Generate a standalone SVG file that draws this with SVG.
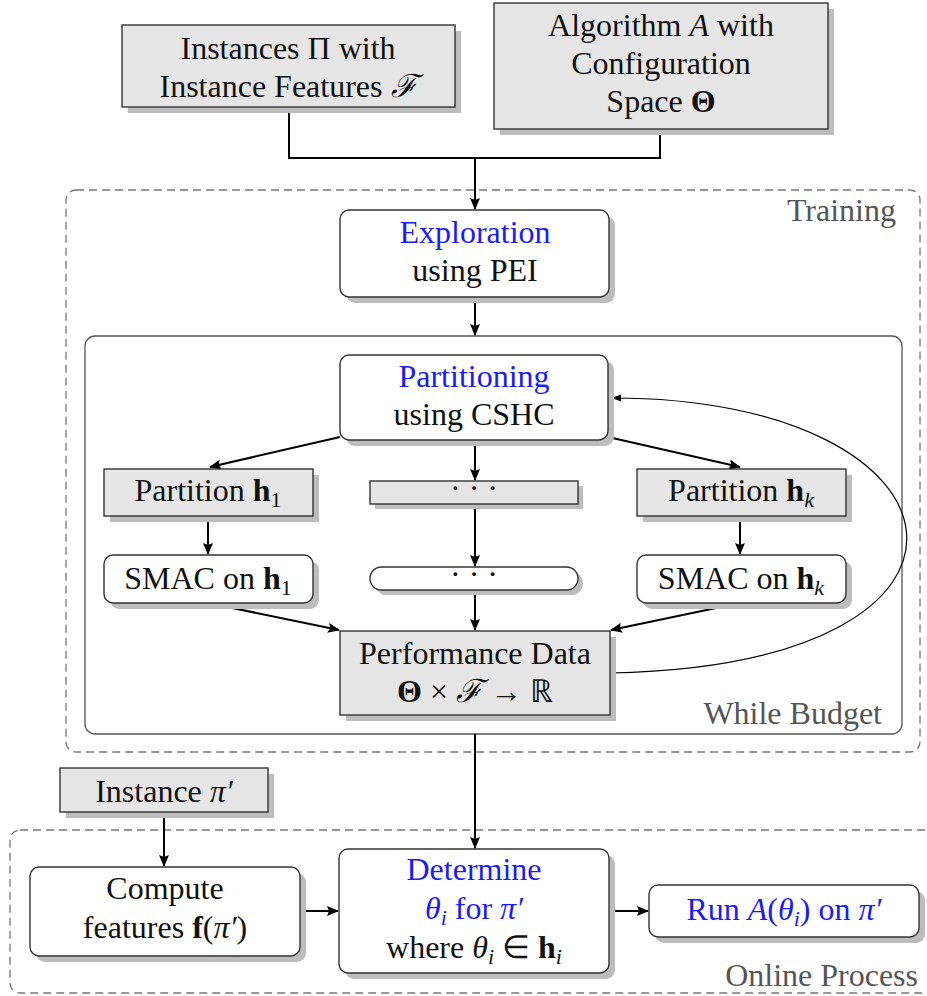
<svg xmlns="http://www.w3.org/2000/svg" width="927" height="996" viewBox="0 0 927 996" font-family="Liberation Serif, serif" font-size="32">
<defs>
<marker id="ah" viewBox="0 0 12 10" refX="11" refY="5" markerWidth="12" markerHeight="10" markerUnits="userSpaceOnUse" orient="auto"><path d="M0,0 L12,5 L0,10 L2,5 z" fill="#000"/></marker>
<marker id="ah2" viewBox="0 0 10 10" refX="10" refY="5" markerWidth="9" markerHeight="9" markerUnits="userSpaceOnUse" orient="auto"><path d="M0,1 L10,5 L0,9 z" fill="#000"/></marker>
</defs>

<g id="training-frame">
<rect x="66" y="190" width="854" height="562" rx="10" fill="none" stroke="#777" stroke-width="1.3" stroke-dasharray="8 5"/>
<text font-family="Liberation Serif" font-size="32" fill="#555" text-anchor="end" x="896" y="221">Training</text>
</g>
<g id="while-budget-frame">
<rect x="85" y="336" width="817" height="398" rx="10" fill="none" stroke="#555" stroke-width="1.3"/>
<text font-family="Liberation Serif" font-size="32" fill="#555" text-anchor="end" x="882" y="724">While Budget</text>
</g>
<g id="online-frame">
<rect x="10" y="830" width="930" height="163" rx="10" fill="none" stroke="#777" stroke-width="1.3" stroke-dasharray="8 5"/>
<text font-family="Liberation Serif" font-size="32" fill="#555" text-anchor="end" x="918" y="986">Online Process</text>
</g>

<g id="connectors" fill="none" stroke="#000" stroke-width="2">
<path d="M289,107 V158 H660 V129"/>
<path d="M475,158 V209" marker-end="url(#ah)"/>
<path d="M475,297 V335" marker-end="url(#ah)"/>
<path d="M340,437 L210,467" marker-end="url(#ah)"/>
<path d="M475,440 V480" marker-end="url(#ah)"/>
<path d="M608,437 L740,467" marker-end="url(#ah)"/>
<path d="M208,516 V554" marker-end="url(#ah)"/>
<path d="M475,504 V566" marker-end="url(#ah)"/>
<path d="M740,516 V554" marker-end="url(#ah)"/>
<path d="M208,603 L339,630" marker-end="url(#ah)"/>
<path d="M475,590 V630" marker-end="url(#ah)"/>
<path d="M740,603 L611,630" marker-end="url(#ah)"/>
<path stroke-width="1.2" d="M610,673 C1030,665 980,398 612,398" marker-end="url(#ah2)"/>
<path d="M475,734 V848" marker-end="url(#ah)"/>
<path d="M164,812 V866" marker-end="url(#ah)"/>
<path d="M300,911 H338" marker-end="url(#ah)"/>
<path d="M609,911 H648" marker-end="url(#ah)"/>
</g>

<g id="instances">
<rect fill="#bdbdbd" x="128" y="31" width="333" height="82"/>
<rect fill="#e6e6e6" stroke="#333" stroke-width="1.4" x="122" y="25" width="333" height="82"/>
<text font-family="Liberation Serif" font-size="32" fill="#111" text-anchor="middle" x="288" y="59">Instances Π with</text>
<text font-family="Liberation Serif" font-size="32" fill="#111" text-anchor="middle" x="288" y="97">Instance Features <tspan font-style="italic">ℱ</tspan></text>
</g>
<g id="algorithm">
<rect fill="#bdbdbd" x="500" y="9" width="334" height="126"/>
<rect fill="#e6e6e6" stroke="#333" stroke-width="1.4" x="494" y="3" width="334" height="126"/>
<text font-family="Liberation Serif" font-size="32" fill="#111" text-anchor="middle" x="661" y="36">Algorithm <tspan font-style="italic">A</tspan> with</text>
<text font-family="Liberation Serif" font-size="32" fill="#111" text-anchor="middle" x="661" y="74">Configuration</text>
<text font-family="Liberation Serif" font-size="32" fill="#111" text-anchor="middle" x="661" y="112">Space <tspan font-weight="bold">Θ</tspan></text>
</g>
<g id="exploration">
<rect fill="#bdbdbd" x="346" y="216" width="269" height="87" rx="9"/>
<rect fill="#fff" stroke="#333" stroke-width="1.4" x="340" y="210" width="269" height="87" rx="9"/>
<text font-family="Liberation Serif" font-size="32" fill="#1a1aff" text-anchor="middle" x="475" y="243">Exploration</text>
<text font-family="Liberation Serif" font-size="32" fill="#111" text-anchor="middle" x="475" y="281">using PEI</text>
</g>
<g id="partitioning">
<rect fill="#bdbdbd" x="346" y="361" width="268" height="85" rx="9"/>
<rect fill="#fff" stroke="#333" stroke-width="1.4" x="340" y="355" width="268" height="85" rx="9"/>
<text font-family="Liberation Serif" font-size="32" fill="#1a1aff" text-anchor="middle" x="474" y="387">Partitioning</text>
<text font-family="Liberation Serif" font-size="32" fill="#111" text-anchor="middle" x="474" y="425">using CSHC</text>
</g>
<g id="partition-h1">
<rect fill="#bdbdbd" x="110" y="475" width="209" height="47"/>
<rect fill="#e6e6e6" stroke="#333" stroke-width="1.4" x="104" y="469" width="209" height="47"/>
<text font-family="Liberation Serif" font-size="32" fill="#111" text-anchor="middle" x="208" y="501">Partition <tspan font-weight="bold">h</tspan><tspan font-size="22" dy="6">1</tspan></text>
</g>
<g id="partition-dots">
<rect fill="#bdbdbd" x="375" y="486" width="208" height="23"/>
<rect fill="#e6e6e6" stroke="#333" stroke-width="1.4" x="370" y="481" width="208" height="23"/>
<text font-family="Liberation Serif" font-size="32" fill="#111" text-anchor="middle" x="474" y="499">· · ·</text>
</g>
<g id="partition-hk">
<rect fill="#bdbdbd" x="643" y="475" width="209" height="47"/>
<rect fill="#e6e6e6" stroke="#333" stroke-width="1.4" x="637" y="469" width="209" height="47"/>
<text font-family="Liberation Serif" font-size="32" fill="#111" text-anchor="middle" x="741" y="501">Partition <tspan font-weight="bold">h</tspan><tspan font-size="22" font-style="italic" dy="6">k</tspan></text>
</g>
<g id="smac-h1">
<rect fill="#bdbdbd" x="110" y="561" width="209" height="48" rx="9"/>
<rect fill="#fff" stroke="#333" stroke-width="1.4" x="104" y="555" width="209" height="48" rx="9"/>
<text font-family="Liberation Serif" font-size="32" fill="#111" text-anchor="middle" x="208" y="589">SMAC on <tspan font-weight="bold">h</tspan><tspan font-size="22" dy="6">1</tspan></text>
</g>
<g id="smac-dots">
<rect fill="#bdbdbd" x="375" y="572" width="208" height="23" rx="11.5"/>
<rect fill="#fff" stroke="#333" stroke-width="1.4" x="370" y="567" width="208" height="23" rx="11.5"/>
<text font-family="Liberation Serif" font-size="32" fill="#111" text-anchor="middle" x="474" y="585">· · ·</text>
</g>
<g id="smac-hk">
<rect fill="#bdbdbd" x="643" y="561" width="209" height="48" rx="9"/>
<rect fill="#fff" stroke="#333" stroke-width="1.4" x="637" y="555" width="209" height="48" rx="9"/>
<text font-family="Liberation Serif" font-size="32" fill="#111" text-anchor="middle" x="741" y="589">SMAC on <tspan font-weight="bold">h</tspan><tspan font-size="22" font-style="italic" dy="6">k</tspan></text>
</g>
<g id="performance-data">
<rect fill="#bdbdbd" x="346" y="637" width="270" height="84"/>
<rect fill="#e6e6e6" stroke="#333" stroke-width="1.4" x="340" y="631" width="270" height="84"/>
<text font-family="Liberation Serif" font-size="32" fill="#111" text-anchor="middle" x="475" y="664">Performance Data</text>
<text font-family="Liberation Serif" font-size="32" fill="#111" text-anchor="middle" x="475" y="702"><tspan font-weight="bold">Θ</tspan> × <tspan font-style="italic">ℱ</tspan> → ℝ</text>
</g>
<g id="instance-pi">
<rect fill="#bdbdbd" x="66" y="774" width="208" height="44"/>
<rect fill="#e6e6e6" stroke="#333" stroke-width="1.4" x="60" y="768" width="208" height="44"/>
<text font-family="Liberation Serif" font-size="32" fill="#111" text-anchor="middle" x="164" y="802">Instance <tspan font-style="italic">π′</tspan></text>
</g>
<g id="compute-features">
<rect fill="#bdbdbd" x="36" y="873" width="270" height="89" rx="9"/>
<rect fill="#fff" stroke="#333" stroke-width="1.4" x="30" y="867" width="270" height="89" rx="9"/>
<text font-family="Liberation Serif" font-size="32" fill="#111" text-anchor="middle" x="165" y="899">Compute</text>
<text font-family="Liberation Serif" font-size="32" fill="#111" text-anchor="middle" x="165" y="938">features <tspan font-weight="bold">f</tspan>(<tspan font-style="italic">π′</tspan>)</text>
</g>
<g id="determine">
<rect fill="#bdbdbd" x="345" y="855" width="270" height="124" rx="9"/>
<rect fill="#fff" stroke="#333" stroke-width="1.4" x="339" y="849" width="270" height="124" rx="9"/>
<text font-family="Liberation Serif" font-size="32" fill="#1a1aff" text-anchor="middle" x="474" y="880">Determine</text>
<text font-family="Liberation Serif" font-size="32" fill="#1a1aff" text-anchor="middle" x="474" y="919"><tspan font-style="italic">θ</tspan><tspan font-size="22" font-style="italic" dy="6">i</tspan><tspan dy="-6"> for </tspan><tspan font-style="italic">π′</tspan></text>
<text font-family="Liberation Serif" font-size="32" fill="#111" text-anchor="middle" x="474" y="958">where <tspan font-style="italic">θ</tspan><tspan font-size="22" font-style="italic" dy="6">i</tspan><tspan dy="-6"> ∈ </tspan><tspan font-weight="bold">h</tspan><tspan font-size="22" font-style="italic" dy="6">i</tspan></text>
</g>
<g id="run">
<rect fill="#bdbdbd" x="655" y="891" width="270" height="52" rx="9"/>
<rect fill="#fff" stroke="#333" stroke-width="1.4" x="649" y="885" width="270" height="52" rx="9"/>
<text font-family="Liberation Serif" font-size="32" fill="#1a1aff" text-anchor="middle" x="784" y="920">Run <tspan font-style="italic">A</tspan>(<tspan font-style="italic">θ</tspan><tspan font-size="22" font-style="italic" dy="6">i</tspan><tspan dy="-6">) on </tspan><tspan font-style="italic">π′</tspan></text>
</g>
</svg>
